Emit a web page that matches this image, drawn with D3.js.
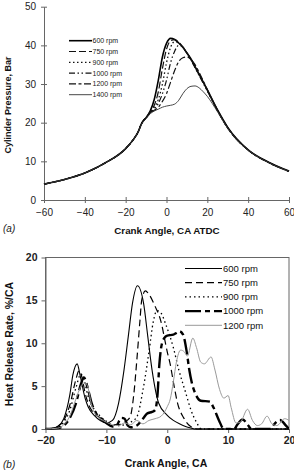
<!DOCTYPE html>
<html><head><meta charset="utf-8">
<script src="https://cdn.jsdelivr.net/npm/d3@7/dist/d3.min.js"></script>
<style>body{margin:0;background:#fff}svg{display:block;font-family:"Liberation Sans",Arial,sans-serif}</style>
</head><body><svg id="c" width="294" height="470"></svg>
<script>
// ---------- (a) cylinder pressure ----------
const rpmA = ["600 rpm","750 rpm","900 rpm","1000 rpm","1200 rpm","1400 rpm"];
const angA = [-60,-50,-40,-30,-20,-16,-14,-12,-10,-8,-6,-4,-2,0,2,4,6,8,10,12,14,16,18,20,25,30,40,50,60];
const p600  = [4.1,5.3,7.0,9.6,13.3,15.8,17.5,20.0,21.3,23.0,26.0,31.0,37.0,40.5,41.8,41.5,40.6,39.5,38.0,36.5,34.5,32.5,30.5,28.5,23.3,18.8,13.0,9.8,7.5];
const p750  = [4.1,5.3,7.0,9.6,13.3,15.8,17.5,20.0,21.3,22.8,24.5,28.0,34.0,39.0,41.2,41.5,40.8,39.6,38.1,36.4,34.4,32.4,30.4,28.4,23.2,18.7,12.9,9.7,7.4];
const p900  = [4.1,5.3,7.0,9.6,13.3,15.8,17.5,20.0,21.3,22.7,24.0,26.0,30.0,35.5,39.5,41.0,40.6,39.5,38.0,36.3,34.3,32.3,30.3,28.3,23.2,18.7,12.9,9.7,7.4];
const p1000 = [4.1,5.3,7.0,9.6,13.3,15.8,17.5,20.0,21.3,22.6,23.5,25.0,27.5,31.0,35.5,38.5,40.0,39.5,38.0,36.2,34.2,32.2,30.2,28.2,23.1,18.6,12.9,9.7,7.4];
const p1200 = [4.1,5.3,7.0,9.6,13.3,15.8,17.5,20.0,21.3,22.5,23.2,24.0,25.5,27.5,30.5,33.5,35.8,36.8,37.0,36.3,35.0,33.0,30.8,28.5,23.1,18.6,12.9,9.7,7.4];
const p1400 = [4.1,5.3,7.0,9.6,13.3,15.8,17.5,19.8,21.0,22.3,23.0,23.5,24.0,24.3,24.5,24.8,25.8,27.5,28.8,29.4,29.5,29.0,28.0,26.8,22.8,18.5,12.9,9.7,7.4];
const seriesA = [p600,p750,p900,p1000,p1200,p1400];
const xTicksA = [-60,-40,-20,0,20,40,60];
const yTicksA = [0,10,20,30,40,50];

// ---------- (b) heat release rate ----------
const rpmB = ["600 rpm","750 rpm","900 rpm","1000 rpm","1200 rpm"];
const h600 = {a:[-20,-19,-18,-17,-16,-15.5,-14.8,-14.3,-13.5,-13,-12,-11,-10,-9,-8,-7.1,-6.4,-5.7,-4.9,-3.9,-3.2,-2.5,-1.4,0,1,2,3,4,4.6,20],
              v:[0,0.05,0.3,1.2,4.0,6.3,7.6,6.2,3.6,2.6,1.6,1.0,0.7,1.0,3.0,6.9,10.8,14.7,16.7,14.7,10.8,6.9,3.0,1.6,1.0,0.6,0.3,0.1,0,0]};
const h750 = {a:[-20,-19,-18,-17,-16,-15,-14.5,-14,-13.5,-13,-12,-11,-10,-9,-8,-7,-6.1,-5.5,-5,-4.5,-4.2,-3.6,-3,-2,-1.1,0,0.5,1,1.7,2.7,3.5,4.5,5,20],
              v:[0,0.05,0.3,1.0,2.8,5.8,6.8,6.0,4.2,3.0,1.8,1.3,0.7,0.5,0.5,0.8,1.4,4.0,8.0,12.5,15.0,16.1,15.7,14.3,12.7,9.0,7.5,5.5,3.0,1.3,0.5,0.1,0,0]};
const h900 = {a:[-20,-19,-18,-17,-16,-15,-14.2,-13.7,-13,-12,-11,-10,-9,-8,-7,-6,-5,-4,-3,-2.3,-1.7,-1,-0.3,1,1.9,3,3.9,4.8,5.6,20],
              v:[0,0.05,0.2,0.8,2.2,4.8,6.4,5.8,3.8,2.3,1.5,0.9,0.5,0.4,0.5,0.8,1.4,4.5,9.0,12.5,13.8,13.5,12.3,9.5,6.9,4.3,2.2,0.8,0,0]};
const h1000 = {a:[-20,-18,-17,-16,-15,-14.2,-13.7,-13,-12.5,-12,-11,-10,-9,-8.5,-7.5,-7,-6.5,-6,-5,-4,-3.3,-2.5,-2,-1.6,-1.3,-1,-0.5,0,1,1.5,2,2.6,3.2,3.6,4,4.7,5.5,7,7.6,8.5,9.3,11,11.5,12.4,13.3,13.8,17,17.5,18.5,19.5,20],
              v:[0,0.1,0.4,1.3,3.0,5.2,6.0,4.6,3.2,2.2,1.3,0.7,0.3,0.3,1.3,1.2,0.4,0.2,0.4,1.2,1.8,2.0,2.2,4.0,7.5,9.5,10.6,10.9,11.0,11.2,11.4,11.0,9.0,7.0,5.5,4.0,3.3,3.2,2.5,1.0,0,0,0.5,1.1,0.4,0,0,0.5,1.05,0.4,0]};
const h1200 = {a:[-20,-18,-17,-16,-15,-14,-13.5,-13,-12.5,-12,-11.5,-11,-10,-9,-8,-7,-6,-5,-4,-3,-2,-1,0,0.5,1,1.5,2.2,2.8,3.3,4.2,4.8,5.5,6.1,7.2,7.8,8.6,9.3,10,10.5,11.3,12,13.2,14,14.8,15.5,16.4,17.2,18,19.3,20],
              v:[0,0.1,0.5,1.5,3.5,5.2,5.4,4.8,3.0,2.0,1.5,1.2,0.8,0.5,0.4,0.7,0.5,1.0,0.6,1.0,1.2,1.5,2.6,3.5,5.5,7.8,9.2,9.0,8.5,10.6,9.5,7.8,7.6,8.4,7.0,4.6,3.6,3.9,2.5,0.7,0.8,2.3,1.0,0.4,0.6,1.5,0.6,0.4,1.2,1.0]};
const seriesB = [h600,h750,h900,h1000,h1200];
const xTicksB = [-20,-10,0,10,20];
const yTicksB = [0,5,10,15,20];

const svg = d3.select("#c");
const axisCol = "#666";
function styleAxis(g){
  g.select(".domain").attr("stroke",axisCol).attr("stroke-width",1);
  g.selectAll(".tick line").attr("stroke",axisCol);
  g.selectAll(".tick text").attr("fill","#222");
}

// ===== chart (a) =====
const xA = d3.scaleLinear().domain([-60,60]).range([44,289]);
const yA = d3.scaleLinear().domain([0,50]).range([200,6.7]);
const gA = svg.append("g");
gA.append("g").attr("transform","translate(0,200)")
  .call(d3.axisBottom(xA).tickValues(xTicksA).tickSizeInner(3).tickSizeOuter(0).tickPadding(6))
  .call(g=>{g.selectAll(".tick line").attr("y1",-3).attr("y2",3);})
  .call(styleAxis).attr("font-size",10).attr("font-family",null);
gA.append("g").attr("transform","translate(44,0)")
  .call(d3.axisLeft(yA).tickValues(yTicksA).tickSizeInner(3).tickSizeOuter(0).tickPadding(5))
  .call(g=>{g.selectAll(".tick line").attr("x1",3).attr("x2",-3);})
  .call(styleAxis).attr("font-size",10).attr("font-family",null);

const dashA = [null,"7,3","1.5,2.5","6,2.5,1.5,2.5,1.5,2.5","7,2.5,3,2.5",null];
const widA = [1.6,1.2,1.3,1.2,1.2,0.9];
const colA = ["#000","#111","#111","#111","#111","#333"];
const lineA = d3.line().x((d,i)=>xA(angA[i])).y(d=>yA(d)).curve(d3.curveMonotoneX);
seriesA.forEach((s,k)=>{
  gA.append("path").attr("d",lineA(s)).attr("fill","none")
    .attr("stroke",colA[k]).attr("stroke-width",widA[k])
    .attr("stroke-dasharray",dashA[k]);
});
rpmA.forEach((r,k)=>{
  const yy = 40.7 + k*10.8;
  gA.append("line").attr("x1",69).attr("x2",92).attr("y1",yy).attr("y2",yy)
    .attr("stroke",colA[k]).attr("stroke-width",widA[k]).attr("stroke-dasharray",dashA[k]);
  gA.append("text").attr("x",92.5).attr("y",yy+2.5).attr("font-size",7).attr("fill","#222").text(r);
});
gA.append("text").attr("x",167).attr("y",234).attr("text-anchor","middle")
  .attr("font-size",9.8).attr("font-weight","bold").attr("fill","#111").text("Crank Angle, CA ATDC");
gA.append("text").attr("transform","translate(11,105) rotate(-90)").attr("text-anchor","middle")
  .attr("font-size",9).attr("font-weight","bold").attr("fill","#111").text("Cylinder Pressure, Bar");
gA.append("text").attr("x",3).attr("y",232).attr("font-size",10).attr("font-style","italic").attr("fill","#222").text("(a)");

// ===== chart (b) =====
const xB = d3.scaleLinear().domain([-20,20]).range([45.5,289]);
const yB = d3.scaleLinear().domain([0,20]).range([429,257.5]);
const gB = svg.append("g");
gB.append("rect").attr("x",45.5).attr("y",257.5).attr("width",289-45.5).attr("height",429-257.5)
  .attr("fill","none").attr("stroke",axisCol).attr("stroke-width",1);
gB.append("g").attr("transform","translate(0,429)")
  .call(d3.axisBottom(xB).tickValues(xTicksB).tickSizeInner(4).tickSizeOuter(0).tickPadding(4))
  .call(styleAxis).attr("font-size",10.5).attr("font-weight","bold").attr("font-family",null);
gB.append("g").attr("transform","translate(45.5,0)")
  .call(d3.axisLeft(yB).tickValues(yTicksB).tickSizeInner(4).tickSizeOuter(0).tickPadding(4))
  .call(styleAxis).attr("font-size",10.5).attr("font-weight","bold").attr("font-family",null);

const dashB = [null,"7,4","1.5,3","16,4,5,4",null];
const widB = [1.1,1.2,1.3,2.4,1.0];
const colB = ["#000","#000","#000","#000","#999"];
svg.append("clipPath").attr("id","cb").append("rect")
  .attr("x",45.5).attr("y",250).attr("width",289-45.5).attr("height",180);
seriesB.forEach((s,k)=>{
  const ln = d3.line().x((d,i)=>xB(s.a[i])).y(d=>yB(d)).curve(d3.curveMonotoneX);
  gB.append("path").attr("d",ln(s.v)).attr("fill","none").attr("clip-path","url(#cb)")
    .attr("stroke",colB[k]).attr("stroke-width",widB[k]).attr("stroke-dasharray",dashB[k]);
});
rpmB.forEach((r,k)=>{
  const yy = 268.5 + k*14.2;
  gB.append("line").attr("x1",185).attr("x2",222).attr("y1",yy).attr("y2",yy)
    .attr("stroke",colB[k]).attr("stroke-width",widB[k]).attr("stroke-dasharray",dashB[k]);
  gB.append("text").attr("x",223).attr("y",yy+3.3).attr("font-size",9.5).attr("fill","#111").text(r);
});
gB.append("text").attr("x",166).attr("y",467).attr("text-anchor","middle")
  .attr("font-size",10.5).attr("font-weight","bold").attr("fill","#111").text("Crank Angle, CA");
gB.append("text").attr("transform","translate(13,344) rotate(-90)").attr("text-anchor","middle")
  .attr("font-size",10.5).attr("font-weight","bold").attr("fill","#111").text("Heat Release Rate, %/CA");
gB.append("text").attr("x",3).attr("y",468).attr("font-size",10).attr("font-style","italic").attr("fill","#222").text("(b)");
</script></body></html>
